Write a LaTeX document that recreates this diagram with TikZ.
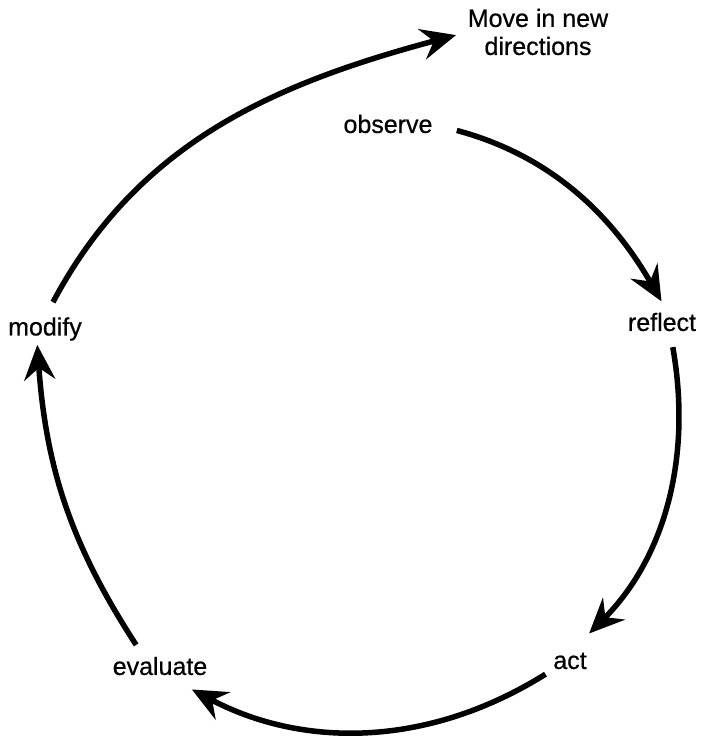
\documentclass[tikz,border=0pt]{standalone}
\usepackage{fontspec}
\setmainfont{Liberation Sans}[FakeBold=0.6]
\usetikzlibrary{arrows.meta, positioning}

\begin{document}
\begin{tikzpicture}[x=1pt, y=1pt,
      stage/.style={inner sep=0pt, font=\fontsize{25}{28}\selectfont},
      cyc/.style={-{Stealth[length=35pt, width=31pt, inset=12pt]}, line width=5.5pt}]
   \useasboundingbox (0,0) rectangle (701,741);
   % Stages of the cycle
   \node[stage] (obs) at (388,617) {observe};
   \node[stage] (refl) at (662,419) {reflect};
   \node[stage] (act) at (570,80) {act};
   \node[stage] (eval) at (160,75) {evaluate};
   \node[stage] (mod) at (45,412) {modify};
   \node[stage, align=center] (move) at (538,709) {Move in new\\directions};
   % Arrows round the cycle
   \draw[cyc, shorten <=25pt, shorten >=13pt]
      (obs.east) to[out=-15, in=120] ([xshift=6pt]refl.north);
   \draw[cyc, shorten <=16pt, shorten >=27pt]
      ([xshift=8pt]refl.south) to[out=-80, in=45] (act.north);
   \draw[cyc, shorten <=9pt, shorten >=30pt]
      (act.south west) to[out=212, in=-28] (eval.-60);
   \draw[cyc, shorten <=14pt, shorten >=4pt]
      (eval.150) to[out=123, in=-86] ([xshift=-8pt]mod.south);
   % Leaving the cycle
   \draw[cyc, shorten <=17pt, shorten >=12pt]
      (mod.north) to[out=62, in=195] (move.west);
\end{tikzpicture}
\end{document}
